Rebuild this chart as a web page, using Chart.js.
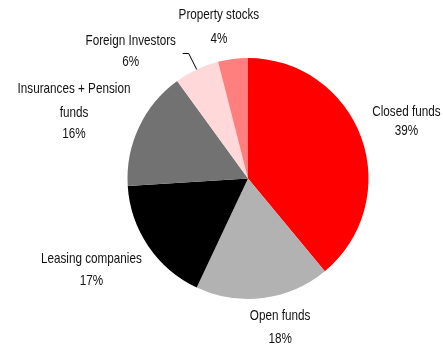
<!DOCTYPE html>
<html>
<head>
<meta charset="utf-8">
<script src="https://cdn.jsdelivr.net/npm/chart.js@4.4.0/dist/chart.umd.min.js"></script>
<style>
  html, body { margin: 0; padding: 0; background: #ffffff; }
  #holder { width: 443px; height: 347px; }
</style>
</head>
<body>
<div id="holder"><canvas id="investorPie" width="443" height="347"></canvas></div>
<script>
// Investor groups and their shares (%)
const categories = ['Closed funds', 'Open funds', 'Leasing companies', 'Insurances + Pension funds', 'Foreign Investors', 'Property stocks'];
const shares = [39, 18, 17, 16, 6, 4];
const sliceColors = ['#ff0000', '#b2b2b2', '#000000', '#727272', '#ffd9d9', '#ff7f7f'];

// label text lines (name wrapped as drawn) and offset from the slice's outer edge
const labelLines = [
    ['Closed funds'],
    ['Open funds'],
    ['Leasing companies'],
    ['Insurances + Pension', 'funds'],
    ['Foreign Investors'],
    ['Property stocks']
];
const labelOffsets = [[45, -16], [17, 29], [-57, 24], [-65, -16], [-66, -18], [-14, -32]];
const lineGaps = [[19], [23], [22], [24, 21], [21], [24]];

// narrow, tall label text
const labelFont = '15px "Liberation Sans", Arial, sans-serif';
const labelSquash = 0.78;

// outside labels, with a bent leader line for the small Foreign Investors slice
const outsideLabels = {
    id: 'outsideLabels',
    afterDatasetsDraw(chart) {
        const ctx = chart.ctx;
        const arcs = chart.getDatasetMeta(0).data;
        ctx.save();
        ctx.font = labelFont;
        ctx.fillStyle = '#111111';
        ctx.textAlign = 'center';
        ctx.textBaseline = 'middle';
        arcs.forEach((arc, i) => {
            const mid = (arc.startAngle + arc.endAngle) / 2;
            const ax = arc.x + Math.cos(mid) * arc.outerRadius;
            const ay = arc.y + Math.sin(mid) * arc.outerRadius;
            const lx = ax + labelOffsets[i][0];
            const ly = ay + labelOffsets[i][1];
            const lines = labelLines[i].concat([shares[i] + '%']);
            let total = 0;
            lineGaps[i].forEach(g => total += g);
            let y = ly - total / 2;
            lines.forEach((t, k) => {
                ctx.save();
                ctx.translate(lx, y);
                ctx.scale(labelSquash, 1);
                ctx.fillText(t, 0, 0);
                ctx.restore();
                if (k < lineGaps[i].length) y += lineGaps[i][k];
            });
            if (i === 4) {
                ctx.strokeStyle = '#000000';
                ctx.lineWidth = 1;
                ctx.beginPath();
                ctx.moveTo(ax, ay);
                ctx.lineTo(ax - 8, ay - 16);
                ctx.lineTo(ax - 14, ay - 16);
                ctx.stroke();
            }
        });
        ctx.restore();
    }
};

new Chart(document.getElementById('investorPie'), {
    type: 'pie',
    data: {
        labels: categories,
        datasets: [{
            data: shares,
            backgroundColor: sliceColors,
            borderWidth: 0
        }]
    },
    options: {
        responsive: false,
        animation: false,
        layout: {
            padding: { left: 127.5, right: 74.5, top: 58, bottom: 48 }
        },
        plugins: {
            legend: { display: false },
            tooltip: { enabled: false }
        }
    },
    plugins: [outsideLabels]
});
</script>
</body>
</html>
